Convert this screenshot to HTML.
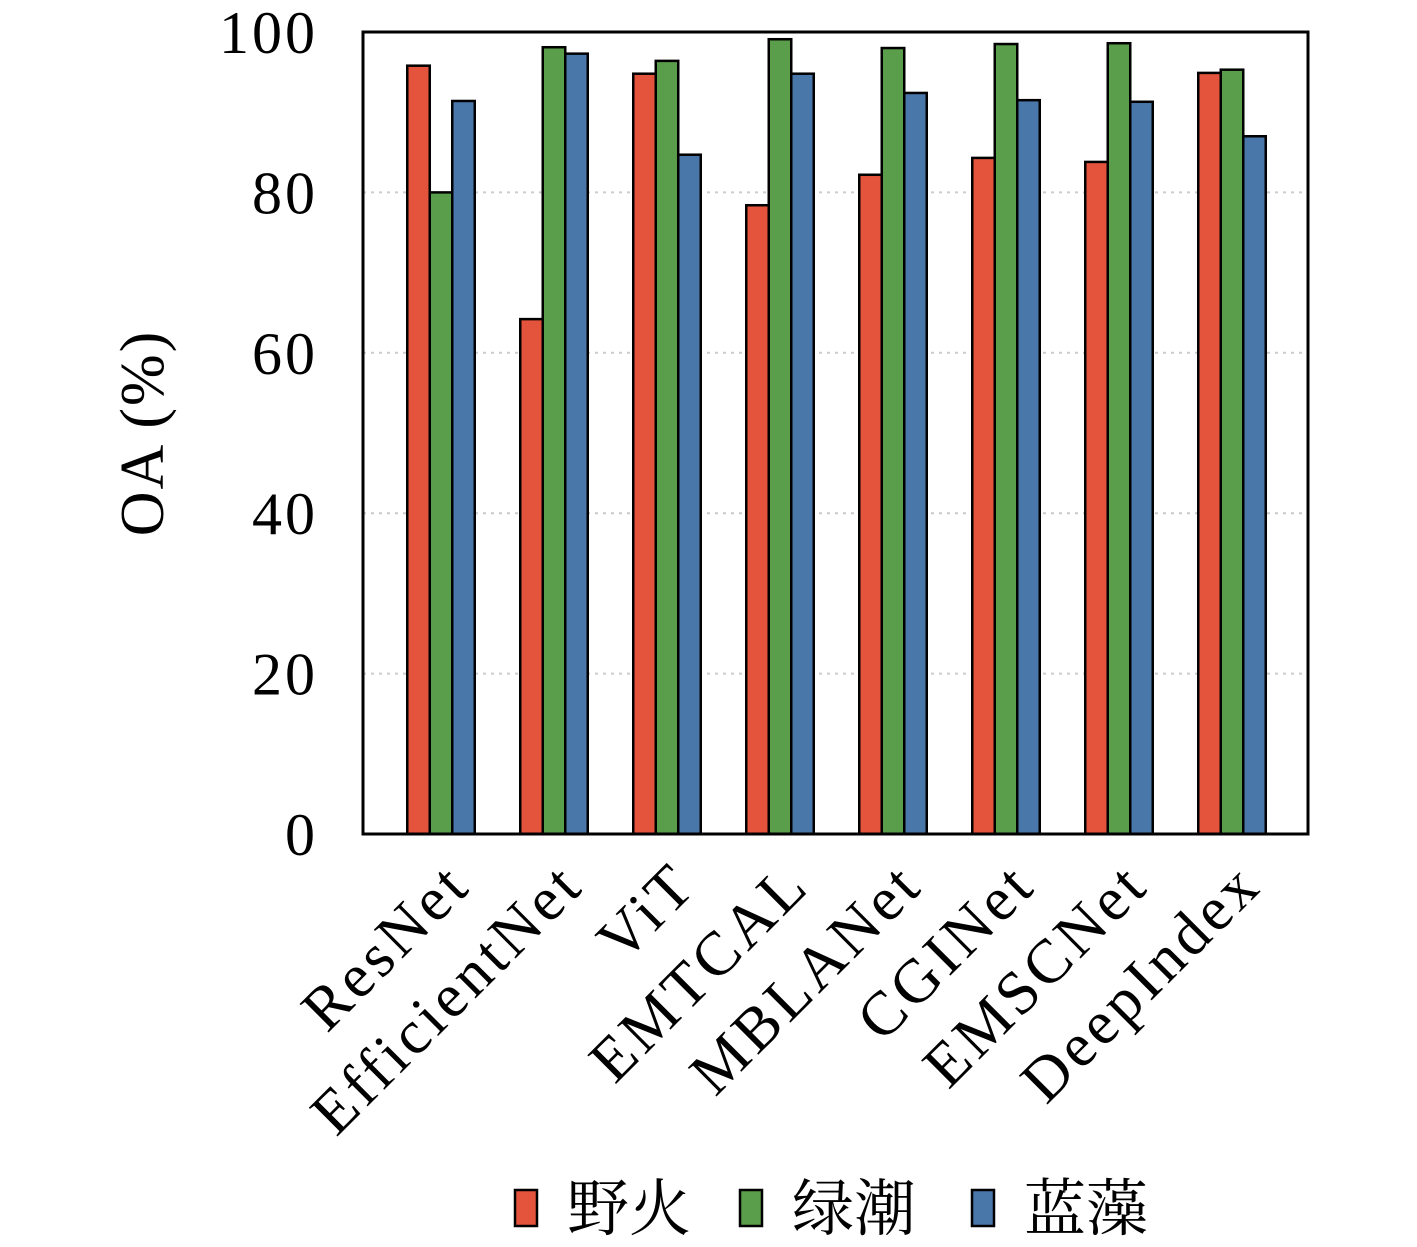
<!DOCTYPE html>
<html><head><meta charset="utf-8"><style>
body{margin:0;background:#fff}
svg text{font-family:"Liberation Serif","Noto Serif CJK SC",serif}
</style></head><body>
<svg id="chart" width="1417" height="1242" xmlns="http://www.w3.org/2000/svg">
<g id="grid"></g>
<g id="bars"></g>
<rect x="363" y="32" width="945" height="802" fill="none" stroke="#000" stroke-width="3"/>
<g id="yticks"></g>
<g id="xticks"></g>
<text x="163" y="433" font-size="62" letter-spacing="2" text-anchor="middle" transform="rotate(-90 163 433)">OA (%)</text>
<g id="legend"></g>
</svg>
<script>
const categories=["ResNet","EfficientNet","ViT","EMTCAL","MBLANet","CGINet","EMSCNet","DeepIndex"];
const seriesNames=["野火","绿潮","蓝藻"];
const wildfire=[95.8,64.2,94.8,78.4,82.2,84.3,83.8,94.9];
const greenTide=[80.0,98.1,96.4,99.1,98.0,98.5,98.6,95.3];
const cyanobacteria=[91.4,97.3,84.7,94.8,92.4,91.5,91.3,87.0];
const yTicks=[0,20,40,60,80,100];
const colors=["#E4533B","#5A9E4B","#4A77A9"];
const series=[wildfire,greenTide,cyanobacteria];
const NS="http://www.w3.org/2000/svg";
const y=v=>834-v*8.02;
const xc=i=>441+i*113;
const bw=22.5;
function mk(t,a,p){const e=document.createElementNS(NS,t);for(const k in a)e.setAttribute(k,a[k]);p.appendChild(e);return e;}
const grid=document.getElementById('grid'),yt=document.getElementById('yticks');
yTicks.forEach(v=>{
 if(v>0&&v<100){const l=mk('line',{x1:363,x2:1308,y1:y(v),y2:y(v),stroke:'#ccc','stroke-width':2,'stroke-dasharray':'3,5'},grid);
 }
 const t=mk('text',{x:318,y:y(v)+21,'font-size':60,'letter-spacing':3,'text-anchor':'end'},yt);t.textContent=v;
 
});
const bars=document.getElementById('bars');
categories.forEach((c,i)=>{
 series.forEach((s,j)=>{
  const r=mk('rect',{x:xc(i)+(j-1.5)*bw,y:y(s[i]),width:bw,height:834-y(s[i]),fill:colors[j],stroke:'#000','stroke-width':2.5},bars);
  
  
 });
 const cx=xc(i)+32,cy=888;
 const t=mk('text',{x:cx,y:cy,'font-size':62,'letter-spacing':4,'text-anchor':'end',transform:`rotate(-45 ${cx} ${cy})`},document.getElementById('xticks'));
 t.textContent=c;
 
 
});
const lg=document.getElementById('legend');
const lx=[515,740,972];
seriesNames.forEach((n,j)=>{
 const r=mk('rect',{x:lx[j],y:1190,width:22,height:36,fill:colors[j],stroke:'#000','stroke-width':2.5},lg);
 
 const t=mk('text',{x:lx[j]+52,y:1230,'font-size':62},lg);t.textContent=n;
 
});
</script>
</body></html>
